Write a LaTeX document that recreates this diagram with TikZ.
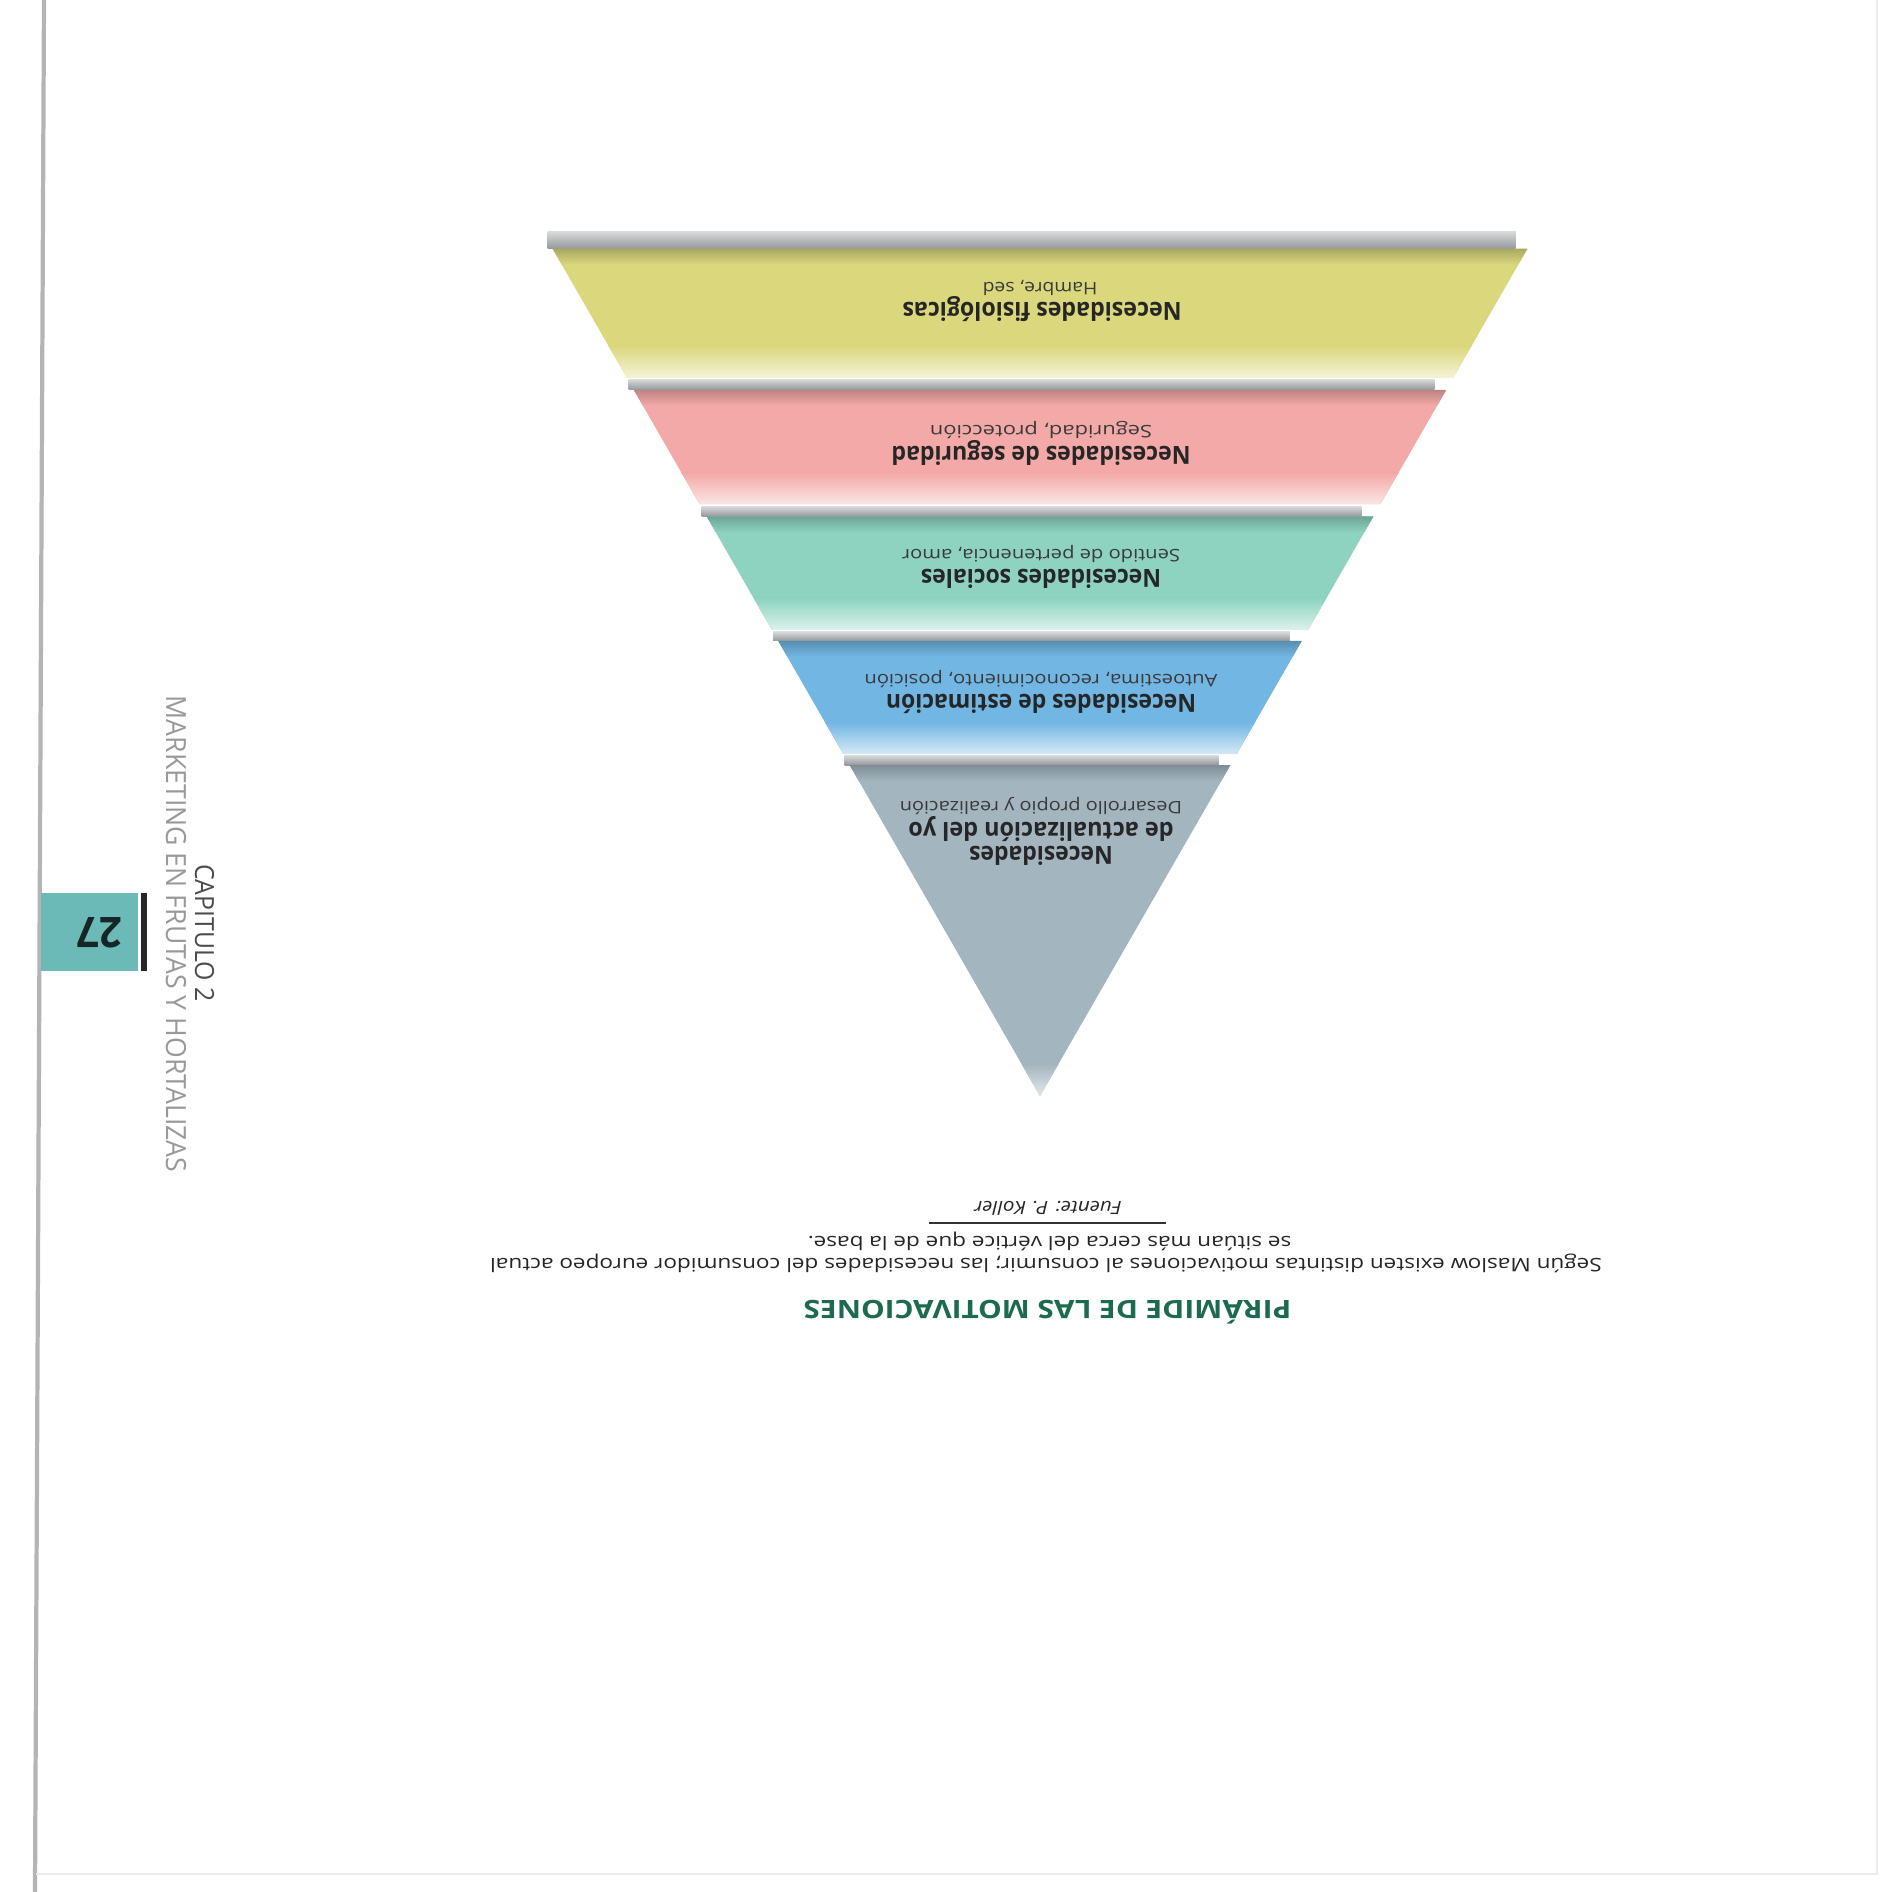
\documentclass[tikz,border=0pt]{standalone}
\usepackage{fontspec}
\setmainfont{Open Sans}
\usetikzlibrary{calc}
\definecolor{cYellow}{HTML}{DAD77D}
\definecolor{cPink}{HTML}{F3A9A7}
\definecolor{cTeal}{HTML}{8DD3BF}
\definecolor{cBlue}{HTML}{72B6E3}
\definecolor{cSlate}{HTML}{A3B5BF}
\definecolor{cBar}{HTML}{A2A6A9}
\definecolor{cTitle}{HTML}{1D6B4E}
\definecolor{cTab}{HTML}{6CBAB7}
\definecolor{cLine}{HTML}{B4B4B4}
\definecolor{cText}{HTML}{262626}
\definecolor{cSub}{HTML}{3A3A3A}
\newsavebox\fitbox
\newcommand\fitto[2]{\sbox\fitbox{#2}\scalebox{\fpeval{#1*0.283465/\the\wd\fitbox}}[1]{\usebox\fitbox}}
\newcommand\pyrband[3]{%
  \pgfmathsetmacro\hwT{0.5753*(1096-#1)}%
  \pgfmathsetmacro\hwB{0.5753*(1096-#2)}%
  \begin{scope}
    \clip (1040-\hwT,#1) -- (1040+\hwT,#1) -- (1040+\hwB,#2) -- (1040-\hwB,#2) -- cycle;
    \fill[#3] (500,#1) rectangle (1600,#2);
    \shade[top color=#3!78!black, bottom color=#3] (500,#1) rectangle (1600,#1+16);
    \shade[top color=#3, bottom color=#3!30!white] (500,#2-32) rectangle (1600,#2);
  \end{scope}}
\newcommand\pyrbar[2]{%
  \pgfmathsetmacro\hwC{0.5753*(1096-#2)}%
  \shade[top color=cBar!45!white, bottom color=cBar!92!black] (1040-\hwC-5,#1) rectangle (1040+\hwC-12,#2);}
\begin{document}
\begin{tikzpicture}[x=0.01cm,y=-0.01cm,
  lbl/.style={rotate=180,anchor=base,inner sep=0pt,text=cText,font=\bfseries\fontsize{7.1}{8.5}\selectfont},
  sub/.style={rotate=180,anchor=base,inner sep=0pt,text=cSub,font=\fontsize{4.9}{6}\selectfont},
  captxt/.style={rotate=180,anchor=base,inner sep=0pt,text=cText,font=\fontsize{5.3}{6.5}\selectfont},
  side/.style={rotate=-90,anchor=center,inner sep=0pt}]
\useasboundingbox[fill=white] (0,0) rectangle (1890,1892);
% page edges
\draw[cLine,line width=1.2pt] (44,0) -- (35,1892);
\draw[black!8,line width=0.5pt] (1877,0) -- (1877,1874) -- (36,1874);
% page tab
\fill[cTab] (41,893) rectangle (137.5,971);
\fill[black!85] (141,893) rectangle (147,971);
\node[rotate=180,inner sep=0pt,text=black!80!cTab,font=\bfseries\fontsize{12}{14}\selectfont] (pnum) at (100,933) {\fitto{46}{27}};
\node[side,text=black!70,font=\fontsize{7.5}{9}\selectfont] (chap) at (204.5,933) {\fitto{138}{CAPITULO 2}};
\node[side,text=black!40,font=\fontsize{7.9}{9}\selectfont] (book) at (176,934) {\fitto{478}{MARKETING EN FRUTAS Y HORTALIZAS}};
% pyramid
\pyrbar{232}{248.6}
\pyrband{248.6}{377.8}{cYellow}
\pyrbar{379.5}{389.8}
\pyrband{389.8}{504.5}{cPink}
\pyrbar{506.5}{516.5}
\pyrband{516.5}{630}{cTeal}
\pyrbar{632}{640.9}
\pyrband{640.9}{754}{cBlue}
\pyrbar{755.5}{765}
\pyrband{765}{1096}{cSlate}
% labels
\node[sub] (s1) at (1040,282.5) {\fitto{115}{Hambre, sed}};
\node[lbl] (l1) at (1042,303) {\fitto{280}{Necesidades fisiológicas}};
\node[sub] (s2) at (1041,426) {\fitto{223}{Seguridad, protección}};
\node[lbl] (l2) at (1041,447) {\fitto{300}{Necesidades de seguridad}};
\node[sub] (s3) at (1041,550) {\fitto{279}{Sentido de pertenencia, amor}};
\node[lbl] (l3) at (1041,570) {\fitto{241}{Necesidades sociales}};
\node[sub] (s4) at (1041,675) {\fitto{354}{Autoestima, reconocimiento, posición}};
\node[lbl] (l4) at (1041,695) {\fitto{311}{Necesidades de estimación}};
\node[sub] (s5) at (1041,801) {\fitto{283}{Desarrollo propio y realización}};
\node[lbl] (l5a) at (1041,822) {\fitto{266}{de actualización del yo}};
\node[lbl] (l5b) at (1041,846) {\fitto{144}{Necesidades}};
% caption
\node[captxt,font=\itshape\fontsize{5.2}{6}\selectfont] (src) at (1048,1201.5) {\fitto{148}{Fuente: P. Koller}};
\coordinate (ruleL) at (929,1223);
\coordinate (ruleR) at (1166,1223);
\draw[black!80,line width=0.5pt] (ruleL) -- (ruleR);
\node[captxt] (c2) at (1049.5,1236.5) {\fitto{485}{se sitúan más cerca del vértice que de la base.}};
\node[captxt] (c1) at (1046,1258.5) {\fitto{1115}{Según Maslow existen distintas motivaciones al consumir; las necesidades del consumidor europeo actual}};
\node[rotate=180,anchor=base,inner sep=0pt,text=cTitle,font=\bfseries\fontsize{7.2}{9}\selectfont] (title) at (1047.5,1300) {\fitto{489}{PIRÁMIDE DE LAS MOTIVACIONES}};
\end{tikzpicture}
\end{document}
